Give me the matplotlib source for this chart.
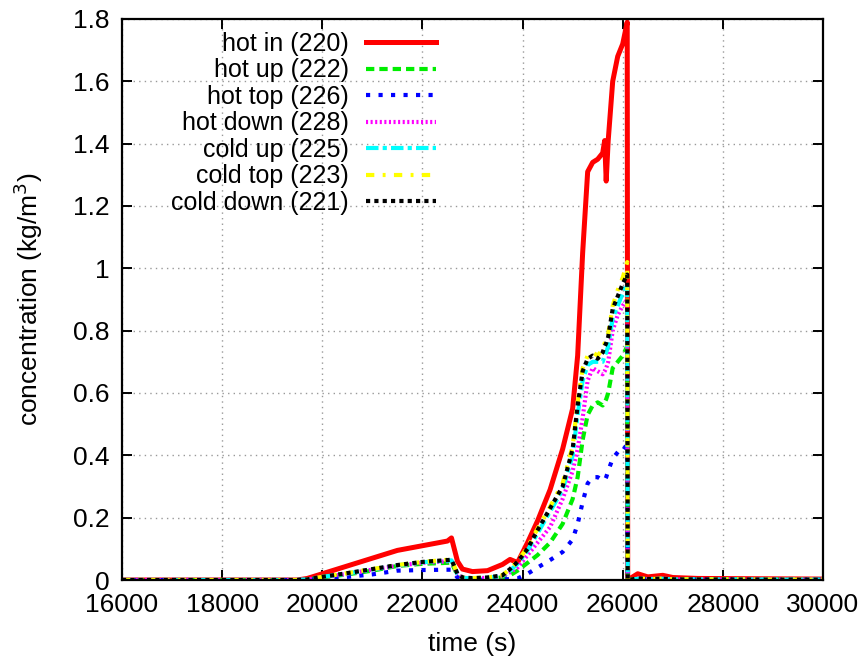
import numpy as np
import matplotlib
matplotlib.use("Agg")
import matplotlib.pyplot as plt
from matplotlib.ticker import FuncFormatter

plt.rcParams['font.family'] = ['Liberation Sans', 'DejaVu Sans']

# time grid (s)
t = [16000, 19500, 19700, 20000, 20500, 21000, 21500, 22000, 22500, 22580,
     22700, 22800, 23000, 23300, 23600, 23750, 23900, 24100, 24300, 24550,
     24800, 25000, 25100, 25200, 25300, 25400, 25500, 25600, 25640, 25670,
     25710, 25800, 25900, 26000, 26090, 26100, 26300, 26500, 26800, 27000,
     27500, 30000]

hot_in = [0, 0, 0.005, 0.02, 0.045, 0.07, 0.095, 0.11, 0.125, 0.135,
          0.06, 0.035, 0.027, 0.03, 0.05, 0.066, 0.056, 0.12, 0.19, 0.29,
          0.42, 0.55, 0.72, 1.05, 1.31, 1.34, 1.35, 1.37, 1.41, 1.28,
          1.41, 1.60, 1.68, 1.72, 1.79, 0.0, 0.02, 0.01, 0.015, 0.008,
          0.005, 0.003]
hot_up = [0, 0, 0.001, 0.008, 0.018, 0.03, 0.045, 0.052, 0.055, 0.056,
          0.015, 0.006, 0.004, 0.005, 0.008, 0.015, 0.03, 0.055, 0.08, 0.12,
          0.18, 0.26, 0.33, 0.45, 0.53, 0.56, 0.57, 0.56, 0.57, 0.58,
          0.60, 0.68, 0.70, 0.72, 0.75, 0.0, 0.004, 0.003, 0.004, 0.002,
          0.002, 0.001]
hot_top = [0, 0, 0.0, 0.004, 0.01, 0.018, 0.03, 0.032, 0.033, 0.033,
           0.008, 0.002, 0.001, 0.001, 0.002, 0.003, 0.005, 0.02, 0.04, 0.064,
           0.09, 0.13, 0.18, 0.25, 0.31, 0.33, 0.33, 0.32, 0.32, 0.33,
           0.35, 0.39, 0.41, 0.43, 0.42, 0.0, 0.002, 0.002, 0.002, 0.001,
           0.001, 0.001]
hot_down = [0, 0, 0.002, 0.009, 0.02, 0.033, 0.046, 0.055, 0.06, 0.061,
            0.018, 0.007, 0.005, 0.007, 0.012, 0.025, 0.04, 0.08, 0.12, 0.17,
            0.26, 0.35, 0.42, 0.52, 0.64, 0.68, 0.67, 0.66, 0.67, 0.68,
            0.70, 0.80, 0.85, 0.88, 0.90, 0.0, 0.004, 0.003, 0.004, 0.002,
            0.002, 0.001]
cold_up = [0, 0, 0.002, 0.01, 0.021, 0.034, 0.047, 0.057, 0.062, 0.063,
           0.019, 0.007, 0.005, 0.007, 0.013, 0.03, 0.052, 0.095, 0.15, 0.22,
           0.29, 0.40, 0.53, 0.64, 0.69, 0.70, 0.70, 0.70, 0.72, 0.73,
           0.75, 0.84, 0.88, 0.92, 0.95, 0.0, 0.004, 0.003, 0.004, 0.002,
           0.002, 0.001]
cold_top = [0, 0, 0.002, 0.01, 0.022, 0.035, 0.048, 0.058, 0.065, 0.066,
            0.02, 0.008, 0.006, 0.008, 0.015, 0.036, 0.06, 0.105, 0.165, 0.235,
            0.31, 0.43, 0.57, 0.68, 0.72, 0.73, 0.72, 0.74, 0.76, 0.77,
            0.79, 0.88, 0.93, 0.97, 1.02, 0.0, 0.005, 0.003, 0.004, 0.002,
            0.002, 0.001]
cold_down = [0, 0, 0.002, 0.01, 0.022, 0.035, 0.048, 0.058, 0.064, 0.065,
             0.02, 0.008, 0.006, 0.008, 0.015, 0.035, 0.058, 0.10, 0.16, 0.23,
             0.30, 0.42, 0.56, 0.67, 0.71, 0.72, 0.71, 0.73, 0.75, 0.76,
             0.78, 0.87, 0.91, 0.95, 0.98, 0.0, 0.005, 0.003, 0.004, 0.002,
             0.002, 0.001]

labels = ["hot in (220)", "hot up (222)", "hot top (226)", "hot down (228)",
          "cold up (225)", "cold top (223)", "cold down (221)"]
series = [hot_in, hot_up, hot_top, hot_down, cold_up, cold_top, cold_down]
colors = ["#ff0000", "#00ee00", "#0000ff", "#ff00ff", "#00ffff", "#ffff00", "#000000"]
dashes = [None, (2, 1.2), (1, 2), (0.5, 0.6), (3, 1, 1, 1), (2, 2, 0.7, 2), (1, 1)]
widths = [3.6, 3, 3, 3, 3, 3, 3]

fig = plt.figure(figsize=(8.65, 6.64), dpi=100)
ax = fig.add_axes([122/865, 84/664, 701/865, 561/664])

for y, lab, c, d, w in zip(series, labels, colors, dashes, widths):
    line, = ax.plot(t, y, color=c, lw=w, label=lab)
    if d is not None:
        line.set_dashes(d)

ax.set_xlim(16000, 30000)
ax.set_ylim(0, 1.8)
ax.set_xticks(np.arange(16000, 30001, 2000))
ax.set_yticks(np.arange(0, 1.81, 0.2))
ax.yaxis.set_major_formatter(FuncFormatter(lambda v, p: "%g" % round(v, 1)))

ax.grid(True, color="#999999", linestyle=(0, (1, 3)), linewidth=1)
ax.set_axisbelow(True)
for s in ax.spines.values():
    s.set_linewidth(1.6)
ax.tick_params(direction="in", length=7, width=1.4, top=True, right=True,
               labelsize=19, pad=9)

ax.set_xlabel("time (s)", fontsize=19, labelpad=11)
ax.set_ylabel("concentration (kg/m$^3$)", fontsize=19, labelpad=20)

ax.legend(loc="upper right", bbox_to_anchor=(0.448, 0.977), frameon=False,
          markerfirst=False, fontsize=18, handlelength=2.8, handletextpad=0.68,
          labelspacing=0.1, borderpad=0, borderaxespad=0)

fig.savefig("out.png", dpi=100)
